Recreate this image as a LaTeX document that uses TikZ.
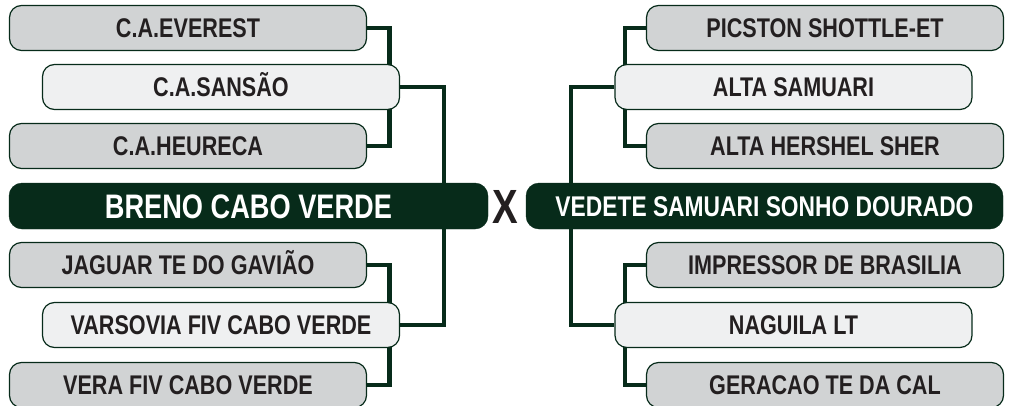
\documentclass[tikz,border=0pt]{standalone}
\usepackage{fontspec}
\setmainfont{Liberation Sans}
\newfontfamily\condf{Liberation Sans}[FakeStretch=0.8]
\usetikzlibrary{backgrounds}
\definecolor{dgreen}{HTML}{072B1A}
\definecolor{greyfill}{HTML}{D1D3D4}
\definecolor{lightfill}{HTML}{EFF0F1}
\definecolor{txt}{HTML}{231F20}
\tikzset{
  teambox/.style={draw=dgreen, line width=1.2pt, rounded corners=12pt, minimum width=357pt, minimum height=45pt, inner sep=0pt, text=txt,
    font=\condf\bfseries\fontsize{27}{27}\selectfont, text height=19.3pt, text depth=0pt},
  greybox/.style={teambox, fill=greyfill},
  lightbox/.style={teambox, fill=lightfill},
  mainbox/.style={fill=dgreen, draw=dgreen, rounded corners=13pt, minimum height=46pt, inner sep=0pt, text=white,
    font=\condf\bfseries\fontsize{34}{34}\selectfont, text height=24.3pt, text depth=0pt},
  link/.style={draw=dgreen, line width=4.8pt, line join=miter}
}
\begin{document}
\begin{tikzpicture}[x=1pt,y=-1pt]
\useasboundingbox (0,0) rectangle (1013,405);
% left side
\node[greybox]  (everest) at (188,28)  {C.A.EVEREST};
\node[lightbox] (sansao)  at (221,87)  {C.A.SANSÃO};
\node[greybox]  (heureca) at (188,146) {C.A.HEURECA};
\node[mainbox, minimum width=479pt] (breno) at (248.5,206) {BRENO CABO VERDE};
\node[greybox]  (jaguar)  at (188,265) {JAGUAR TE DO GAVIÃO};
\node[lightbox] (varsovia) at (221,325) {VARSOVIA FIV CABO VERDE};
\node[greybox]  (vera)    at (188,385) {VERA FIV CABO VERDE};
% right side
\node[greybox]  (picston) at (825,28)  {PICSTON SHOTTLE-ET};
\node[lightbox] (altasam) at (793.5,87) {ALTA SAMUARI};
\node[greybox]  (altaher) at (825,146) {ALTA HERSHEL SHER};
\node[mainbox, minimum width=477pt, font=\condf\bfseries\fontsize{28.5}{28.5}\selectfont, text height=20.4pt] (vedete) at (764.5,206) {VEDETE SAMUARI SONHO DOURADO};
\node[greybox]  (impressor) at (825,265) {IMPRESSOR DE BRASILIA};
\node[lightbox] (naguila) at (793.5,325) {NAGUILA LT};
\node[greybox]  (geracao) at (825,385) {GERACAO TE DA CAL};
% versus
\node[text=txt, inner sep=0pt, font=\condf\bfseries\fontsize{48}{48}\selectfont, text height=34pt, text depth=0pt] (vs) at (505.5,206) {X};
\coordinate (xl) at (444,0);
\coordinate (xr) at (571,0);
\begin{scope}[on background layer]
\draw[link] (everest.east) -- ++(22,0) |- (heureca.east);
\draw[link] (jaguar.east) -- ++(22,0) |- (vera.east);
\draw[link] (sansao.east) -- (sansao.east -| xl) -- (varsovia.east -| xl) -- (varsovia.east);
\draw[link] (picston.west) -- ++(-21,0) |- (altaher.west);
\draw[link] (impressor.west) -- ++(-21,0) |- (geracao.west);
\draw[link] (altasam.west) -- (altasam.west -| xr) -- (naguila.west -| xr) -- (naguila.west);
\end{scope}
\end{tikzpicture}
\end{document}
